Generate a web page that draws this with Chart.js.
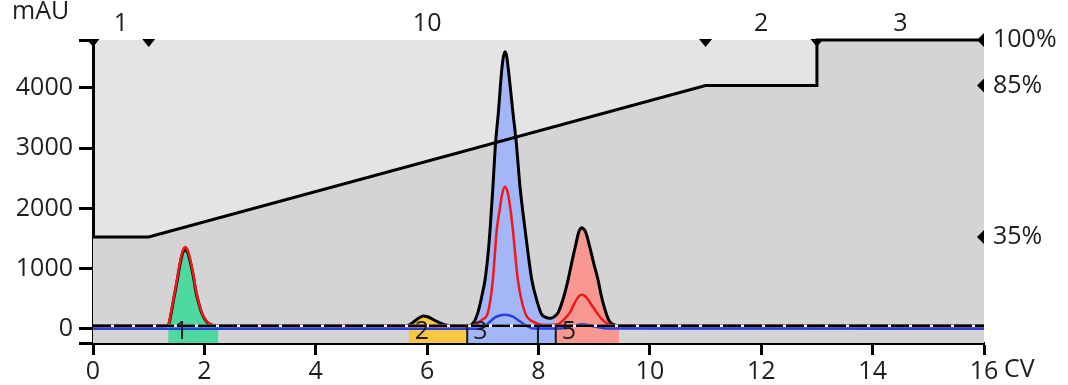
<!DOCTYPE html>
<html>
<head>
<meta charset="utf-8">
<script src="https://cdn.jsdelivr.net/npm/chart.js@4.4.1/dist/chart.umd.min.js"></script>
<style>
    html, body { margin: 0; padding: 0; background: #fff; }
</style>
</head>
<body>
<canvas id="chart" width="1068" height="385"></canvas>
<script>
    'use strict';

    // axis ticks
    var cvTicks = [0, 2, 4, 6, 8, 10, 12, 14, 16];
    var mauTicks = [0, 1000, 2000, 3000, 4000];
    var percentTicks = [35, 85, 100];

    // UV trace (black)
    var blackCv = [0, 1.20, 1.30, 1.35, 1.40, 1.45, 1.50, 1.55, 1.60, 1.625, 1.65, 1.675, 1.70, 1.75, 1.80, 1.85, 1.90, 1.95, 2.00, 2.05, 2.10, 2.15, 2.25,
        5.60, 5.67, 5.75, 5.85, 5.93, 6.00, 6.10, 6.20, 6.30, 6.40, 6.50, 6.72,
        6.80, 6.91, 7.00, 7.04, 7.10, 7.13, 7.18, 7.23, 7.28, 7.34, 7.37, 7.40, 7.43, 7.46, 7.54, 7.60, 7.67, 7.76, 7.82, 7.88, 7.99, 8.05, 8.12, 8.22, 8.31,
        8.35, 8.45, 8.53, 8.62, 8.66, 8.72, 8.75, 8.78, 8.81, 8.85, 8.92, 9.00, 9.07, 9.13, 9.19, 9.26, 9.32, 9.40, 9.45, 16];
    var blackMau = [50, 50, 52, 60, 240, 500, 740, 1010, 1230, 1290, 1320, 1300, 1270, 1100, 880, 610, 420, 270, 170, 110, 75, 58, 50,
        50, 60, 110, 180, 215, 205, 160, 110, 75, 55, 50, 52,
        70, 265, 620, 810, 1300, 1640, 2340, 3100, 3600, 4300, 4520, 4600, 4520, 4300, 3600, 3100, 2340, 1640, 1200, 810, 410, 250, 195, 175, 225,
        265, 520, 810, 1200, 1360, 1600, 1660, 1680, 1660, 1600, 1360, 1060, 810, 540, 330, 150, 80, 55, 50, 50];

    // second UV trace (red)
    var redCv = [0, 1.30, 1.35, 1.40, 1.45, 1.50, 1.55, 1.60, 1.625, 1.65, 1.675, 1.70, 1.75, 1.80, 1.85, 1.90, 1.95, 2.00, 2.05, 2.10, 2.15, 2.25,
        6.80, 6.90, 7.00, 7.09, 7.18, 7.25, 7.30, 7.35, 7.40, 7.45, 7.50, 7.54, 7.63, 7.76, 7.90, 8.05, 8.20,
        8.35, 8.45, 8.56, 8.65, 8.72, 8.78, 8.85, 8.95, 9.05, 9.15, 9.25, 9.40, 16];
    var redMau = [45, 47, 70, 265, 525, 775, 1045, 1265, 1330, 1360, 1345, 1305, 1135, 905, 635, 435, 282, 180, 118, 82, 62, 48,
        48, 90, 160, 265, 810, 1640, 1960, 2250, 2360, 2250, 1960, 1640, 810, 265, 120, 70, 65,
        75, 150, 265, 430, 535, 565, 530, 400, 265, 150, 80, 48, 45];

    // third UV trace (blue)
    var blueCv = [0, 6.95, 7.05, 7.15, 7.25, 7.40, 7.55, 7.65, 7.80, 7.92, 8.40, 8.55, 8.78, 9.00, 9.25, 16];
    var blueMau = [0, 0, 50, 140, 205, 235, 200, 135, 45, 5, 5, 35, 75, 40, 5, 0];

    // dashed reference line
    var dashCv = [0, 16];
    var dashMau = [50, 50];

    // gradient (% B)
    var gradientCv = [0, 1, 11, 13, 13, 16];
    var gradientPct = [35, 35, 85, 85, 100, 100];
    var blockStartCv = [0, 1, 11, 13];
    var blockLabels = ['1', '10', '2', '3'];

    // fractions
    var fractionNames = ['1', '2', '3', '4', '5'];
    var fractionStart = [1.35, 5.67, 6.72, 7.99, 8.31];
    var fractionEnd = [2.25, 6.72, 7.99, 8.31, 9.45];
    var fractionColors = ['#4fd9a1', '#f7c846', '#a3b6f8', '#a3b6f8', '#f99891'];

    var FONT = '"Open Sans", sans-serif';
    var TEXT = '#1e1e1e';

    Chart.defaults.font.family = FONT;
    Chart.defaults.font.size = 25;
    Chart.defaults.color = TEXT;

    /**
     * Pair up x and y lists into point objects.
     */
    function points(xs, ys) {
        return xs.map(function(x, i) {
            return { x: x, y: ys[i] };
        });
    }

    var blackPoints = points(blackCv, blackMau);

    var datasets = [
        {
            // shaded area under the gradient
            data: points(gradientCv, gradientPct),
            yAxisID: 'y2',
            fill: 'origin',
            backgroundColor: '#d4d4d4',
            borderWidth: 0,
            tension: 0,
            order: 7
        },
        {
            data: points(dashCv, dashMau),
            borderColor: '#f2f2f2',
            borderWidth: 2.5,
            order: 1.5
        },
        {
            data: points(dashCv, dashMau),
            borderColor: '#000',
            borderWidth: 2.5,
            borderDash: [18, 3],
            order: 1
        },
        {
            data: points(blueCv, blueMau),
            borderColor: '#2b3ee0',
            borderWidth: 2.5,
            cubicInterpolationMode: 'monotone',
            order: 2
        },
        {
            data: points(redCv, redMau),
            borderColor: '#f01818',
            borderWidth: 2.5,
            cubicInterpolationMode: 'monotone',
            order: 3
        },
        {
            data: blackPoints,
            borderColor: '#000',
            borderWidth: 3,
            cubicInterpolationMode: 'monotone',
            order: 4
        },
        {
            // gradient line on top of everything
            data: points(gradientCv, gradientPct),
            yAxisID: 'y2',
            borderColor: '#000',
            borderWidth: 3,
            tension: 0,
            clip: 4,
            order: 0
        }
    ];

    fractionStart.forEach(function(start, i) {
        var end = fractionEnd[i];
        datasets.push({
            data: blackPoints.filter(function(p) { return p.x >= start && p.x <= end; }),
            fill: 'start',
            backgroundColor: fractionColors[i],
            borderWidth: 0,
            cubicInterpolationMode: 'monotone',
            order: 5
        });
    });

    function triangle(ctx, x1, y1, x2, y2, x3, y3) {
        ctx.beginPath();
        ctx.moveTo(x1, y1);
        ctx.lineTo(x2, y2);
        ctx.lineTo(x3, y3);
        ctx.closePath();
        ctx.fill();
    }

    var decorPlugin = {
        id: 'decor',
        beforeDraw: function(chart) {
            var a = chart.chartArea;
            var ctx = chart.ctx;
            ctx.save();
            ctx.fillStyle = '#e4e4e4';
            ctx.fillRect(a.left, a.top, a.right - a.left, a.bottom - a.top);
            ctx.restore();
        },
        afterDatasetsDraw: function(chart) {
            var ctx = chart.ctx;
            var x = chart.scales.x;
            var y = chart.scales.y;
            var bottom = chart.chartArea.bottom;
            ctx.save();

            // dividers between touching fractions
            ctx.strokeStyle = '#1a1a1a';
            ctx.lineWidth = 2;
            for (var i = 0; i < fractionStart.length - 1; i++) {
                if (fractionEnd[i] === fractionStart[i + 1]) {
                    var px = x.getPixelForValue(fractionEnd[i]);
                    ctx.beginPath();
                    ctx.moveTo(px, y.getPixelForValue(dashMau[0]) - 1);
                    ctx.lineTo(px, bottom);
                    ctx.stroke();
                }
            }

            // fraction names, skipped when the fraction is too narrow
            ctx.fillStyle = TEXT;
            ctx.font = '25px ' + FONT;
            ctx.textAlign = 'left';
            ctx.textBaseline = 'alphabetic';
            fractionNames.forEach(function(name, j) {
                var left = x.getPixelForValue(fractionStart[j]);
                var right = x.getPixelForValue(fractionEnd[j]);
                if (right - left > 30) {
                    ctx.fillText(name, left + 6, bottom - 4);
                }
            });
            ctx.restore();
        },
        afterDraw: function(chart) {
            var ctx = chart.ctx;
            var a = chart.chartArea;
            var x = chart.scales.x;
            var y2 = chart.scales.y2;
            ctx.save();
            ctx.fillStyle = '#000';

            // block start markers along the top
            blockStartCv.forEach(function(cv) {
                var px = x.getPixelForValue(cv);
                triangle(ctx, px - 6.5, a.top - 1, px + 6.5, a.top - 1, px, a.top + 7);
            });

            // level markers on the right edge
            percentTicks.forEach(function(p) {
                var py = y2.getPixelForValue(p);
                triangle(ctx, a.right, py - 7, a.right, py + 7, a.right - 7, py);
            });

            ctx.fillStyle = TEXT;
            ctx.font = '25px ' + FONT;
            ctx.textBaseline = 'alphabetic';
            ctx.textAlign = 'center';
            blockStartCv.forEach(function(cv, i) {
                var next = i + 1 < blockStartCv.length ? blockStartCv[i + 1] : x.max;
                ctx.fillText(blockLabels[i], x.getPixelForValue((cv + next) / 2), 31);
            });

            ctx.textAlign = 'left';
            ctx.fillText('mAU', 12, 19);
            ctx.fillText('CV', a.right + 20, 377);
            ctx.restore();
        }
    };

    new Chart(document.getElementById('chart'), {
        type: 'line',
        data: { datasets: datasets },
        plugins: [decorPlugin],
        options: {
            responsive: false,
            animation: false,
            events: [],
            layout: { padding: { top: 40, left: 0, right: 0, bottom: 0 } },
            elements: { point: { radius: 0 } },
            plugins: {
                legend: { display: false },
                tooltip: { enabled: false }
            },
            scales: {
                x: {
                    type: 'linear',
                    min: 0,
                    max: 16,
                    z: 1,
                    afterBuildTicks: function(s) {
                        s.ticks = cvTicks.map(function(v) { return { value: v }; });
                    },
                    afterFit: function(s) { s.height = 42; },
                    grid: { drawOnChartArea: false, tickLength: 12, tickWidth: 3, tickColor: '#000' },
                    border: { color: '#000', width: 3 },
                    ticks: {
                        padding: 2,
                        maxRotation: 0,
                        autoSkip: false,
                        callback: function(v) { return String(v); }
                    }
                },
                y: {
                    min: -235,
                    max: 4797,
                    z: 1,
                    afterBuildTicks: function(s) {
                        s.ticks = [s.min].concat(mauTicks, [s.max]).map(function(v) { return { value: v }; });
                    },
                    afterFit: function(s) { s.width = 93; },
                    grid: { drawOnChartArea: false, tickLength: 14, tickWidth: 3, tickColor: '#000' },
                    border: { color: '#000', width: 3 },
                    ticks: {
                        padding: 6,
                        autoSkip: false,
                        callback: function(v) { return mauTicks.indexOf(v) >= 0 ? String(v) : ''; }
                    }
                },
                y2: {
                    position: 'right',
                    min: 0,
                    max: 100,
                    afterBuildTicks: function(s) {
                        s.ticks = percentTicks.map(function(v) { return { value: v }; });
                    },
                    afterFit: function(s) { s.width = 84; },
                    grid: { display: false, drawTicks: false },
                    border: { display: false },
                    ticks: {
                        padding: 9,
                        autoSkip: false,
                        callback: function(v) { return v + '%'; }
                    }
                }
            }
        }
    });
</script>
</body>
</html>
